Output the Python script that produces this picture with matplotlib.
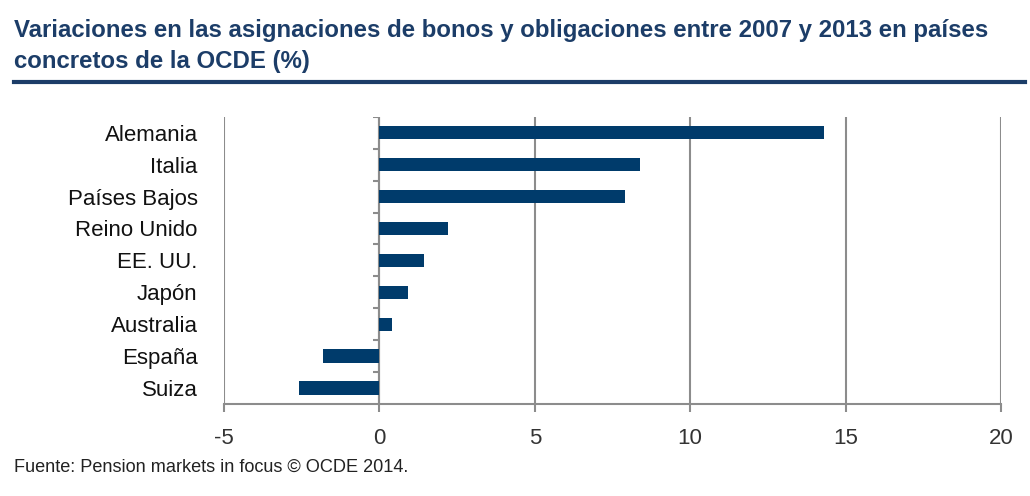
import matplotlib.pyplot as plt
from matplotlib import font_manager
from matplotlib.lines import Line2D

# Data
countries = ['Alemania', 'Italia', 'Países Bajos', 'Reino Unido', 'EE. UU.',
             'Japón', 'Australia', 'España', 'Suiza']
changes = [14.3, 8.4, 7.9, 2.2, 1.43, 0.93, 0.42, -1.8, -2.6]
xticks = [-5, 0, 5, 10, 15, 20]

title = ('Variaciones en las asignaciones de bonos y obligaciones entre 2007 y 2013 en países\n'
         'concretos de la OCDE (%)')
source = 'Fuente: Pension markets in focus © OCDE 2014.'

navy = '#003b6b'
grey = '#8c8c8c'

# pick a narrow font for title / source if one is installed
installed = {f.name for f in font_manager.fontManager.ttflist}
narrow = 'Liberation Sans Narrow' if 'Liberation Sans Narrow' in installed else None
if narrow:
    title_font = dict(family=narrow, size=20)
    src_font = dict(family=narrow, size=13)
else:
    title_font = dict(family='Liberation Sans', size=17.3)
    src_font = dict(family='Liberation Sans', size=13.1)

plt.rcParams['font.family'] = ['Liberation Sans', 'DejaVu Sans']

fig = plt.figure(figsize=(10.3, 4.96), dpi=100)
ax = fig.add_axes([0.2175, 0.1855, 0.7543, 0.579])

y = list(range(len(countries)))
ax.barh(y, changes, height=0.42, color=navy, zorder=3)

ax.set_xlim(-5, 20)
ax.set_ylim(len(countries) - 0.5, -0.5)
ax.set_xticks(xticks)
ax.set_xticklabels([str(t) for t in xticks], fontsize=16, color='#333333')
ax.set_yticks(y)
ax.set_yticklabels(countries, fontsize=16, color='#111111')

ax.tick_params(axis='y', length=0, pad=19)
ax.tick_params(axis='x', length=6, width=1.5, color=grey, pad=11)

for s in ['top', 'right', 'left']:
    ax.spines[s].set_visible(False)
ax.spines['bottom'].set_color(grey)
ax.spines['bottom'].set_linewidth(1.5)

ax.grid(axis='x', color=grey, linewidth=1.5, zorder=1)
ax.set_axisbelow(True)

# category axis at zero with boundary ticks
ax.axvline(0, color=grey, linewidth=1.5, zorder=2)
bounds = [i - 0.5 for i in range(len(countries))]
ax.hlines(bounds, -0.22, 0, color=grey, linewidth=1.5, zorder=2)

# title, rule and source
fig.text(0.0136, 0.962, title, ha='left', va='top', color='#1c3d68',
         fontweight='bold', linespacing=1.45, **title_font)
fig.add_artist(Line2D([0.0136, 0.995], [0.834, 0.834], color='#1c3d68',
                      linewidth=3, transform=fig.transFigure))
fig.text(0.0136, 0.058, source, ha='left', va='center', color='#222222', **src_font)

plt.savefig('out.png', dpi=100)
